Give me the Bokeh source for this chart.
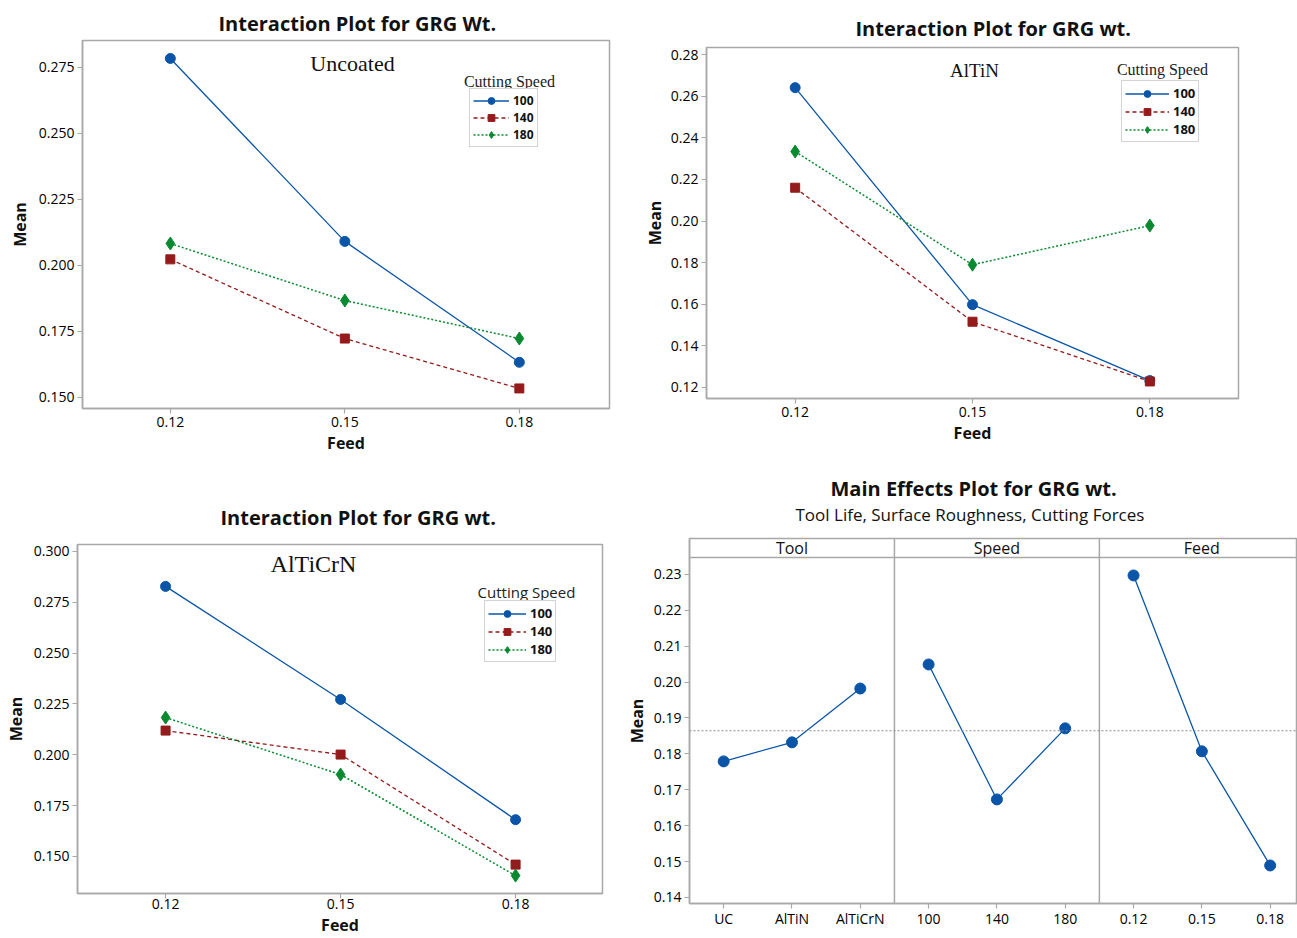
from bokeh.plotting import figure
from bokeh.models import (Range1d, FixedTicker, Legend, LegendItem, Label, Span, Title,
                          PrintfTickFormatter)
from bokeh.layouts import row, column
from bokeh.embed import file_html
from bokeh.resources import INLINE
import numpy as np

# ---------------- data ----------------
feed = [0.12, 0.15, 0.18]
speeds = ["100", "140", "180"]

unc_100 = [0.2784, 0.2091, 0.1633]
unc_140 = [0.2023, 0.1723, 0.1534]
unc_180 = [0.2083, 0.1867, 0.1723]

altin_100 = [0.2641, 0.1598, 0.1233]
altin_140 = [0.2160, 0.1516, 0.1229]
altin_180 = [0.2334, 0.1790, 0.1978]

alticrn_100 = [0.2828, 0.2272, 0.1681]
alticrn_140 = [0.2119, 0.2001, 0.1460]
alticrn_180 = [0.2183, 0.1903, 0.1406]

yticks_unc = [0.150, 0.175, 0.200, 0.225, 0.250, 0.275]
yticks_altin = [0.12, 0.14, 0.16, 0.18, 0.20, 0.22, 0.24, 0.26, 0.28]
yticks_alticrn = [0.150, 0.175, 0.200, 0.225, 0.250, 0.275, 0.300]

tool_levels = ["UC", "AlTiN", "AlTiCrN"]
tool_means = [0.1779, 0.1832, 0.1982]
speed_levels = ["100", "140", "180"]
speed_means = [0.2049, 0.1673, 0.1871]
feed_levels = ["0.12", "0.15", "0.18"]
feed_means = [0.2297, 0.1807, 0.1489]
yticks_main = [0.14, 0.15, 0.16, 0.17, 0.18, 0.19, 0.20, 0.21, 0.22, 0.23]

# ---------------- styles ----------------
SANS = "Open Sans"
SERIF = "Liberation Serif"
GRAY = "#a8a8a8"
BLUE = "#0b55a8"
RED = "#941b1b"
GREEN = "#0a8a30"

STYLES = [
    dict(color=BLUE, dash="solid", marker="circle", size=10, lw=1.3),
    dict(color=RED, dash="4 3", marker="square", size=9, lw=1.3),
    dict(color=GREEN, dash="2 2", marker="diamond", size=13, lw=1.5),
]


def style_axes(p):
    p.xgrid.visible = False
    p.ygrid.visible = False
    p.outline_line_color = GRAY
    p.outline_line_width = 1.5
    p.background_fill_color = "white"
    p.border_fill_color = "white"
    for ax in p.axis:
        ax.axis_line_color = GRAY
        ax.axis_line_width = 1.5
        ax.major_tick_line_color = GRAY
        ax.major_tick_line_width = 1.2
        ax.major_tick_out = 5
        ax.major_tick_in = 0
        ax.minor_tick_out = 0
        ax.minor_tick_in = 0
        ax.major_label_standoff = 3
        ax.major_label_text_font = SANS
        ax.major_label_text_font_size = "14px"
        ax.major_label_text_color = "#000000"
        ax.axis_label_text_font = SANS
        ax.axis_label_text_font_style = "bold"
        ax.axis_label_text_color = "#111111"


def set_title(t, text, size, offset, standoff, style="bold"):
    t.text = text
    t.align = "left"
    t.text_font = SANS
    t.text_font_size = size
    t.text_font_style = style
    t.text_color = "#111111"
    t.offset = offset
    t.standoff = standoff


def interaction(width, height, mb, xr, yr, yticks, yfmt, title, toff, tstand, ystand, series,
                coat, coat_xy, coat_size, leg_loc, leg_label_size, glyph_w, ct_xy, ct_font,
                ct_size, xlab_standoff=3):
    p = figure(width=width, height=height, x_range=Range1d(*xr), y_range=Range1d(*yr),
               output_backend="svg", toolbar_location=None,
               min_border_left=mb[0], min_border_right=mb[1],
               min_border_top=mb[2], min_border_bottom=mb[3])
    p.frame_align = False
    set_title(p.title, title, "20px", toff, tstand)
    p.xaxis.ticker = FixedTicker(ticks=feed)
    p.xaxis.formatter = PrintfTickFormatter(format="%.2f")
    p.yaxis.ticker = FixedTicker(ticks=yticks)
    p.yaxis.formatter = PrintfTickFormatter(format=yfmt)
    p.xaxis.axis_label = "Feed"
    p.yaxis.axis_label = "Mean"
    style_axes(p)
    p.xaxis.major_label_standoff = xlab_standoff
    p.xaxis.axis_label_text_font_size = "16px"
    p.yaxis.axis_label_text_font_size = "16px"
    p.xaxis.axis_label_standoff = 2
    p.yaxis.axis_label_standoff = ystand

    items = []
    for lab, ys, st in zip(speeds, series, STYLES):
        ln = p.line(feed, ys, line_color=st["color"], line_width=st["lw"], line_dash=st["dash"])
        sc = p.scatter(feed, ys, marker=st["marker"], size=st["size"],
                       fill_color=st["color"], line_color=st["color"])
        items.append(LegendItem(label=lab, renderers=[ln, sc]))
    leg = Legend(items=items, location=leg_loc, border_line_color=GRAY, border_line_width=1.5,
                 padding=3, spacing=0, margin=0, glyph_width=glyph_w, glyph_height=17,
                 label_height=17, label_standoff=4, label_text_font=SANS,
                 label_text_font_size=leg_label_size, label_text_font_style="bold",
                 label_text_color="#111111",
                 background_fill_color="white", background_fill_alpha=1)
    p.add_layout(leg)
    p.add_layout(Label(x=coat_xy[0], y=coat_xy[1], x_units="screen", y_units="screen",
                       text=coat, text_font=SERIF, text_font_size=coat_size,
                       text_align="center", text_baseline="middle", text_color="#111111"))
    p.add_layout(Label(x=ct_xy[0], y=ct_xy[1], x_units="screen", y_units="screen",
                       text="Cutting Speed", text_font=ct_font, text_font_size=ct_size,
                       text_align="center", text_baseline="middle", text_color="#222222"))
    return p


p1 = interaction(640, 460, (82, 31, 40, 52), (0.1049, 0.1955), (0.1458, 0.2852),
                 yticks_unc, "%.3f", "Interaction Plot for GRG Wt.", 136, 8, 5,
                 [unc_100, unc_140, unc_180], "Uncoated", (270, 345), "22px",
                 (387, 261), "12px", 36, (427, 327), SERIF, "16px")

p2 = interaction(657, 460, (64, 59, 47, 62), (0.105, 0.195), (0.1147, 0.2834),
                 yticks_altin, "%.2f", "Interaction Plot for GRG wt.", 149, 11, 2,
                 [altin_100, altin_140, altin_180], "AlTiN", (268, 328), "19px",
                 (415, 256), "13px", 44, (456, 329), SERIF, "16px")

p3 = interaction(610, 478, (77, 8, 84, 45), (0.1049, 0.1949), (0.1318, 0.3034),
                 yticks_alticrn, "%.3f", "Interaction Plot for GRG wt.", 143, 27, 4,
                 [alticrn_100, alticrn_140, alticrn_180], "AlTiCrN", (236, 330), "24px",
                 (407, 231), "13px", 38, (449, 302), SANS, "15px", xlab_standoff=0)

# ---------------- main effects ----------------
groups = [("Tool", tool_levels, tool_means),
          ("Speed", speed_levels, speed_means),
          ("Feed", feed_levels, feed_means)]

y0, y1 = 0.1383, 0.2400
frame_h = 365
header_h = 19
p4 = figure(width=687, height=478, x_range=Range1d(0.5, 9.4), y_range=Range1d(y0, y1),
            output_backend="svg", toolbar_location=None,
            min_border_left=79, min_border_right=0, min_border_top=78, min_border_bottom=35)
p4.frame_align = False
style_axes(p4)
p4.xaxis.major_label_standoff = 0
p4.yaxis.axis_label = "Mean"
p4.yaxis.axis_label_text_font_size = "16px"
p4.yaxis.axis_label_standoff = 3
p4.yaxis.ticker = FixedTicker(ticks=yticks_main)
p4.yaxis.formatter = PrintfTickFormatter(format="%.2f")

header_loc = y1 - header_h * (y1 - y0) / frame_h
overrides = {}
ticks = []
pos = 1
for gi, (name, levels, means) in enumerate(groups):
    xs = list(range(pos, pos + len(levels)))
    for xv, lv in zip(xs, levels):
        overrides[xv] = lv
        ticks.append(xv)
    p4.line(xs, means, line_color=BLUE, line_width=1.3)
    p4.scatter(xs, means, marker="circle", size=11, fill_color=BLUE, line_color=BLUE)
    p4.add_layout(Label(x=(xs[0] + xs[-1]) / 2, y=(header_loc + y1) / 2,
                        text=name, text_font=SANS, text_font_size="16px",
                        text_align="center", text_baseline="middle", text_color="#111111"))
    if gi < len(groups) - 1:
        p4.add_layout(Span(location=xs[-1] + 0.5, dimension="height",
                           line_color=GRAY, line_width=1.5))
    pos += len(levels)

p4.xaxis.ticker = FixedTicker(ticks=ticks)
p4.xaxis.major_label_overrides = overrides
p4.add_layout(Span(location=header_loc, dimension="width", line_color=GRAY, line_width=1.5))
p4.add_layout(Span(location=float(np.mean(tool_means)), dimension="width",
                   line_color="#888888", line_width=1, line_dash="2 2"))

set_title(p4.title, "Main Effects Plot for GRG wt.", "20px", 141, -28)
sub = Title(text="Tool Life, Surface Roughness, Cutting Forces", align="left",
            text_font=SANS, text_font_size="17px", text_font_style="normal",
            text_color="#111111", offset=106, standoff=26)
p4.add_layout(sub, "above")

layout = column(row(p1, p2), row(p3, p4))
open("out.html", "w").write(file_html(layout, INLINE))
